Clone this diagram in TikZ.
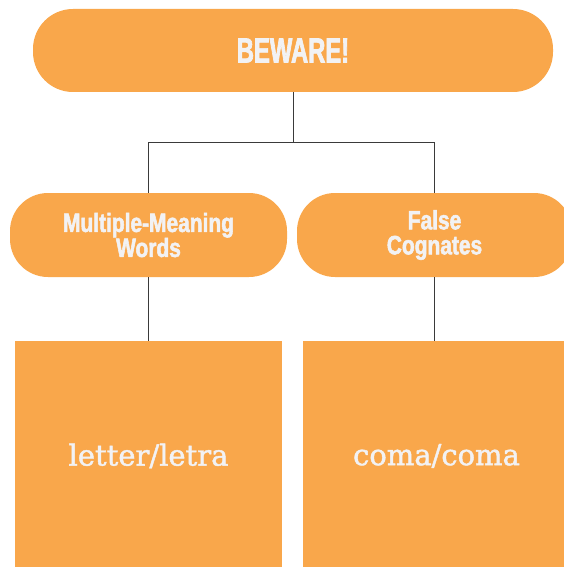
\documentclass[tikz,border=0pt]{standalone}
\usepackage{fontspec}
\usepackage{xcolor}
\usepackage{tikz}
\usetikzlibrary{positioning}
\definecolor{bewareOrange}{HTML}{F9A74B}
\definecolor{paleText}{HTML}{F2F2F4}
\definecolor{lineGray}{HTML}{3A3A3A}
\newfontfamily\headfont[FakeStretch=0.68,FakeBold=2]{Liberation Sans}
\newfontfamily\subfont[FakeStretch=0.79,FakeBold=2]{Liberation Sans}
\newfontfamily\wordfont[FakeBold=1.5]{DejaVu Serif}

\begin{document}
\begin{tikzpicture}[x=1pt,y=1pt,
        pill/.style={fill=bewareOrange,rounded corners=38pt,inner sep=0pt,align=center,
        text=paleText,font=\subfont\bfseries\fontsize{26.5}{25}\selectfont},
        wordbox/.style={fill=bewareOrange,inner sep=0pt,minimum width=267pt,minimum height=229pt,
        text=paleText,font=\wordfont\fontsize{29}{30}\selectfont},
        link/.style={draw=lineGray,line width=0.8pt}]
        \useasboundingbox (0,0) rectangle (563,-567);
        \node[pill,minimum width=520pt,minimum height=83pt,rounded corners=40pt,
            font=\headfont\bfseries\fontsize{35}{38}\selectfont] (beware) at (293,-50.5) {BEWARE!};
        \node[pill,minimum width=277pt,minimum height=84pt] (mmw) at (148.5,-235) {Multiple-Meaning\\Words};
        \node[pill,minimum width=275pt,minimum height=84pt] (fc) at (434.5,-235) {False\\Cognates};
        \node[wordbox,below=64pt of mmw] (ex1) {letter/letra};
        \node[wordbox,below=64pt of fc,xshift=2pt] (ex2) {coma/coma};
        \coordinate (split) at (293,-142);
        \draw[link] (beware)--(split); \draw[link] (split)-|(mmw); \draw[link] (split)-|(fc);
        \draw[link] (mmw)--(mmw|-ex1.north); \draw[link] (fc)--(fc|-ex2.north);
    \end{tikzpicture}
\end{document}
